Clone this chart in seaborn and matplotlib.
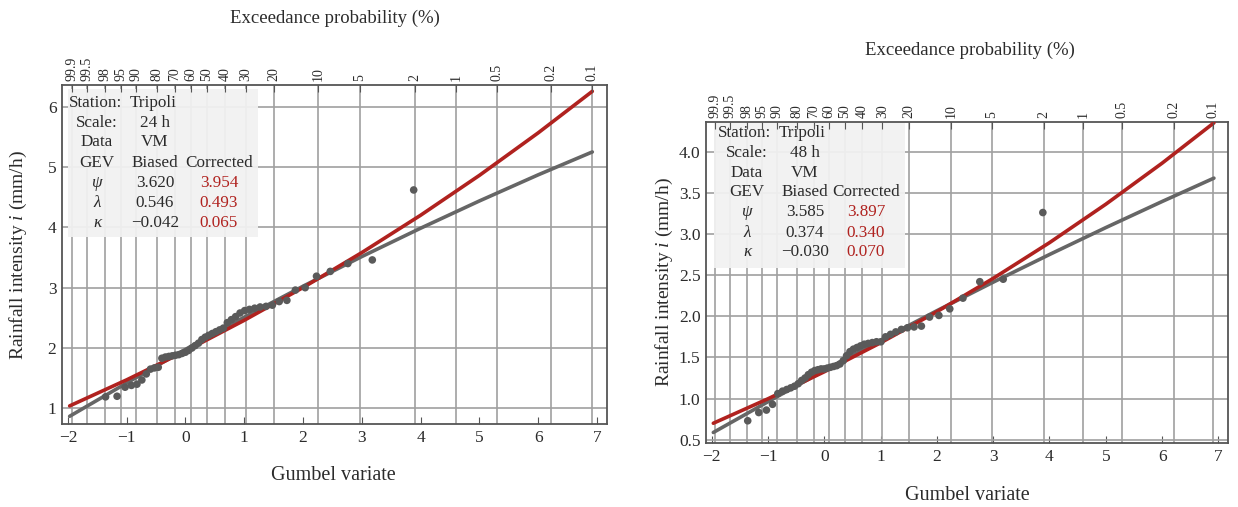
import numpy as np
import pandas as pd
import matplotlib
matplotlib.use("Agg")
import matplotlib.pyplot as plt
from matplotlib.patches import Rectangle
import seaborn as sns

# Gumbel variate (plotting position) of the 48 ranked maxima
gumbel_x = [-1.359, -1.163, -1.027, -0.919, -0.825, -0.742, -0.666, -0.595, -0.528, -0.463,
            -0.401, -0.341, -0.283, -0.225, -0.169, -0.113, -0.057, -0.001, 0.054, 0.110,
            0.166, 0.222, 0.279, 0.337, 0.396, 0.456, 0.518, 0.581, 0.645, 0.712,
            0.781, 0.853, 0.928, 1.007, 1.089, 1.177, 1.270, 1.370, 1.478, 1.595,
            1.725, 1.870, 2.036, 2.229, 2.463, 2.762, 3.178, 3.882]

# rainfall intensity (mm/h), 24 h and 48 h
i24 = [1.19, 1.20, 1.35, 1.38, 1.40, 1.47, 1.57, 1.65, 1.67, 1.68,
       1.83, 1.85, 1.86, 1.87, 1.88, 1.89, 1.91, 1.93, 1.96, 2.00,
       2.04, 2.08, 2.14, 2.18, 2.21, 2.24, 2.27, 2.30, 2.33, 2.42,
       2.47, 2.52, 2.58, 2.62, 2.64, 2.66, 2.68, 2.69, 2.71, 2.77,
       2.79, 2.96, 3.00, 3.19, 3.27, 3.40, 3.46, 4.62]
i48 = [0.73, 0.83, 0.86, 0.93, 1.06, 1.09, 1.11, 1.13, 1.15, 1.18,
       1.22, 1.25, 1.29, 1.32, 1.34, 1.35, 1.36, 1.36, 1.37, 1.38,
       1.39, 1.40, 1.42, 1.46, 1.52, 1.57, 1.60, 1.62, 1.64, 1.66,
       1.67, 1.68, 1.69, 1.69, 1.75, 1.78, 1.81, 1.84, 1.86, 1.87,
       1.88, 1.99, 2.01, 2.09, 2.22, 2.42, 2.45, 3.26]

# fitted GEV curves read along the Gumbel variate
curve_x = [-1.97, -1.0, 0.0, 1.0, 2.0, 3.0, 4.0, 5.0, 6.0, 6.92]
biased24 = [0.868, 1.419, 1.977, 2.511, 3.024, 3.516, 3.986, 4.438, 4.871, 5.250]
corrected24 = [1.040, 1.472, 1.949, 2.459, 3.002, 3.582, 4.201, 4.862, 5.567, 6.255]
biased48 = [0.588, 0.961, 1.341, 1.709, 2.067, 2.414, 2.750, 3.077, 3.394, 3.678]
corrected48 = [0.700, 0.997, 1.325, 1.677, 2.055, 2.460, 2.894, 3.361, 3.860, 4.350]

exceed_pct = [99.9, 99.5, 98, 95, 90, 80, 70, 60, 50, 40, 30, 20, 10, 5, 2, 1, 0.5, 0.2, 0.1]
exceed_labels = ["99.9", "99.5", "98", "95", "90", "80", "70", "60", "50", "40",
                 "30", "20", "10", "5", "2", "1", "0.5", "0.2", "0.1"]

params_24 = {"ψ": ("3.620", "3.954"), "λ": ("0.546", "0.493"), "κ": ("\u22120.042", "0.065")}
params_48 = {"ψ": ("3.585", "3.897"), "λ": ("0.374", "0.340"), "κ": ("\u22120.030", "0.070")}

sns.set_style("white")
plt.rcParams["font.family"] = ["Liberation Serif", "DejaVu Serif"]
plt.rcParams["mathtext.fontset"] = "custom"
plt.rcParams["mathtext.it"] = "Liberation Serif:italic"
plt.rcParams["mathtext.rm"] = "Liberation Serif"

W, H = 1238, 507
fig = plt.figure(figsize=(W / 100, H / 100), dpi=100)

RED = "#b0221f"
GREY_LINE = "#666666"
PT = "#5a5a5a"
GRID = "#a0a0a0"
FRAME = "#555555"
TXT = "#2b2b2b"

prob_pos = [-np.log(-np.log(1 - p / 100)) for p in exceed_pct]


def px_axes(l, t, r, b):
    return fig.add_axes([l / W, (H - b) / H, (r - l) / W, (b - t) / H])


def draw_panel(ax, intens, biased, corrected, ylim, ymaj, ymin, yfmt, scale, params, tbl):
    pts = pd.DataFrame({"x": gumbel_x, "i": intens})
    curves = pd.DataFrame({"x": curve_x * 2, "i": biased + corrected,
                           "fit": ["Biased"] * len(curve_x) + ["Corrected"] * len(curve_x)})
    sns.lineplot(data=curves, x="x", y="i", hue="fit", palette={"Biased": GREY_LINE, "Corrected": RED},
                 linewidth=2.6, ax=ax, legend=False, zorder=3, sort=False)
    sns.scatterplot(data=pts, x="x", y="i", color=PT, s=30, edgecolor="none", ax=ax, zorder=4, legend=False)
    ax.set_xlim(-2.1, 7.17)
    ax.set_ylim(*ylim)
    ax.set_xticks(range(-2, 8))
    ax.set_xticklabels(["\u22122", "\u22121"] + [str(v) for v in range(0, 8)])
    ax.set_xticks(prob_pos, minor=True)
    ax.set_yticks(ymaj)
    ax.set_yticklabels([yfmt.format(v) for v in ymaj])
    ax.set_yticks(ymin, minor=True)
    ax.grid(which="minor", axis="x", color=GRID, linewidth=1.2)
    ax.grid(which="major", axis="y", color=GRID, linewidth=1.2)
    ax.set_axisbelow(True)
    ax.tick_params(axis="x", which="minor", length=0)
    ax.tick_params(axis="both", which="major", direction="in", length=5, color=FRAME,
                   labelsize=12.5, labelcolor=TXT, pad=4)
    ax.tick_params(axis="y", which="minor", direction="in", length=3, color=FRAME)
    ax.set_xlabel("")
    ax.set_ylabel("")
    for sp in ax.spines.values():
        sp.set_color(FRAME)
        sp.set_linewidth(1.3)

    top = ax.twiny()
    top.set_xlim(ax.get_xlim())
    top.set_xticks(prob_pos)
    top.set_xticklabels(exceed_labels, rotation=90, fontsize=10, color=TXT)
    top.tick_params(axis="x", direction="in", length=5, color=FRAME, pad=3)
    for sp in top.spines.values():
        sp.set_visible(False)

    # parameter table
    bx0, by0, bx1, by1, c1, c2, c3, st, tp, rows = tbl
    aw = ax.get_position().width * W
    ah = ax.get_position().height * H
    ax.add_patch(Rectangle((bx0 / aw, 1 - by1 / ah), (bx1 - bx0) / aw, (by1 - by0) / ah,
                           transform=ax.transAxes, facecolor="#f2f2f2", edgecolor="none",
                           alpha=0.93, zorder=2))

    def put(s, dx, dy, ha="center", color=TXT, style="normal"):
        ax.annotate(s, xy=(0, 1), xycoords="axes fraction", xytext=(dx, -dy),
                    textcoords="offset pixels", ha=ha, va="center", fontsize=12.3,
                    color=color, fontstyle=style, zorder=5)

    put("Station:", st, rows[0], ha="left")
    put("Tripoli", tp, rows[0], ha="left")
    put("Scale:", c1, rows[1])
    put(scale, c2, rows[1])
    put("Data", c1, rows[2])
    put("VM", c2, rows[2])
    put("GEV", c1, rows[3])
    put("Biased", c2, rows[3])
    put("Corrected", c3, rows[3])
    for k, (sym, (b, c)) in enumerate(params.items()):
        put(sym, c1, rows[4 + k], style="italic")
        put(b, c2, rows[4 + k])
        put(c, c3, rows[4 + k], color=RED)


ax1 = px_axes(62, 85, 607, 424)
draw_panel(ax1, i24, biased24, corrected24, (0.74, 6.36),
           [1, 2, 3, 4, 5, 6], np.arange(0.8, 6.4, 0.2), "{:.0f}", "24 h", params_24,
           (6, 4, 196, 152, 35, 93, 157, 7, 68, [18, 38, 57, 78, 98, 118, 138]))

ax2 = px_axes(706, 122, 1228, 443)
draw_panel(ax2, i48, biased48, corrected48, (0.46, 4.36),
           [0.5, 1.0, 1.5, 2.0, 2.5, 3.0, 3.5, 4.0], np.arange(0.5, 4.4, 0.1), "{:.1f}", "48 h", params_48,
           (8, 0, 199, 146, 41, 99, 160, 12, 73, [11, 31, 51, 70, 90, 111, 130]))

fig.text(335 / W, 1 - 18 / H, "Exceedance probability (%)", ha="center", va="center", fontsize=13.5, color=TXT)
fig.text(970 / W, 1 - 50 / H, "Exceedance probability (%)", ha="center", va="center", fontsize=13.5, color=TXT)
fig.text(333 / W, 1 - 475 / H, "Gumbel variate", ha="center", va="center", fontsize=14.5, color=TXT)
fig.text(967 / W, 1 - 495 / H, "Gumbel variate", ha="center", va="center", fontsize=14.5, color=TXT)
fig.text(18 / W, 1 - 255 / H, "Rainfall intensity $\\mathit{i}$ (mm/h)", ha="center", va="center",
         rotation=90, fontsize=14, color=TXT)
fig.text(664 / W, 1 - 282 / H, "Rainfall intensity $\\mathit{i}$ (mm/h)", ha="center", va="center",
         rotation=90, fontsize=14, color=TXT)

fig.savefig("out.png", dpi=100, facecolor="white")
